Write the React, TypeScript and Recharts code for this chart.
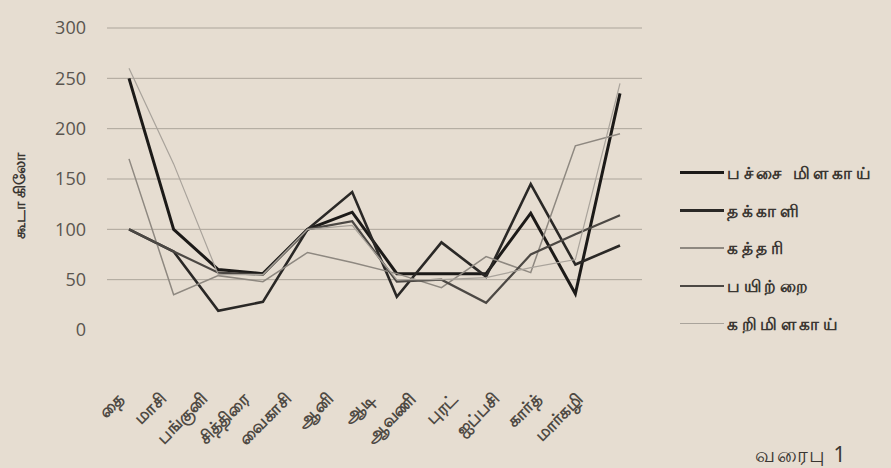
import React from 'react';
import { LineChart, Line, XAxis, YAxis, CartesianGrid } from 'recharts';

const months = ['தை', 'மாசி', 'பங்குனி', 'சித்திரை', 'வைகாசி', 'ஆனி', 'ஆடி', 'ஆவணி', 'புரட்', 'ஐப்பசி', 'கார்த்', 'மார்கழி'];

const pachaiMilagai = [250, 100, 60, 56, 100, 117, 56, 56, 56, 116, 36, 235];
const thakkali = [100, 78, 19, 28, 100, 137, 33, 87, 53, 145, 65, 84];
const kathari = [170, 35, 54, 48, 77, 67, 56, 42, 73, 57, 183, 195];
const payitrai = [100, 78, 57, 55, 100, 108, 48, 50, 27, 75, 95, 114];
const karimilagai = [260, 165, 55, 55, 100, 104, 50, 50, 52, 62, 70, 245];

const yTicks = [0, 50, 100, 150, 200, 250, 300];
const gridValues = [50, 100, 150, 200, 250, 300];

const series = [
    { key: 'pachai', name: 'பச்சை மிளகாய்', values: pachaiMilagai, color: '#1c1a18', width: 3 },
    { key: 'thakkali', name: 'தக்காளி', values: thakkali, color: '#2a2826', width: 2.6 },
    { key: 'kathari', name: 'கத்தரி', values: kathari, color: '#8e8880', width: 1.5 },
    { key: 'payitrai', name: 'பயிற்றை', values: payitrai, color: '#4c4844', width: 2.2 },
    { key: 'kari', name: 'கறிமிளகாய்', values: karimilagai, color: '#a9a39b', width: 1.2 },
];

const data = months.map((m, i) => {
    const row: Record<string, string | number> = { month: m };
    series.forEach((s) => {
        row[s.key] = s.values[i];
    });
    return row;
});

const BG = '#e6ddd1';
const TEXT = '#4e4943';
const FONT = '"Noto Sans", "Open Sans", sans-serif';

// the scanned labels drift left a little more for every month
const MonthTick = (props: any) => {
    const { x, y, payload, index } = props;
    const dx = -4 - 2.9 * index;
    return (
        <g transform={`translate(${x + dx},${y + 62}) rotate(-45)`}>
            <text textAnchor='end' fill={TEXT} fontSize={17} fontFamily={FONT} fontWeight={600}>
                {payload.value}
            </text>
        </g>
    );
};

const AxisTitle = () => (
    <text
        x={19}
        y={196}
        transform='rotate(-90 19 196)'
        textAnchor='middle'
        dominantBaseline='central'
        fill='#3a3632'
        fontSize={16}
        fontWeight={700}
        fontFamily={FONT}
    >
        கூடா கிலோ
    </text>
);

export default function App() {
    return (
        <div style={{ position: 'absolute', left: 0, top: 0, width: 891, height: 468, background: BG, overflow: 'hidden' }}>
            <LineChart width={891} height={468} data={data} margin={{ top: 28, right: 249, bottom: 108, left: 0 }}>
                <CartesianGrid vertical={false} horizontalValues={gridValues} stroke='#aca59b' strokeWidth={1} />
                <XAxis
                    dataKey='month'
                    axisLine={false}
                    tickLine={false}
                    interval={0}
                    padding={{ left: 22, right: 22 }}
                    tick={<MonthTick />}
                />
                <YAxis
                    width={107}
                    domain={[0, 300]}
                    ticks={yTicks}
                    axisLine={false}
                    tickLine={false}
                    tickMargin={15}
                    tick={{ fill: '#5a554f', fontSize: 18, fontFamily: '"Open Sans", sans-serif' }}
                    label={{ content: <AxisTitle /> }}
                />
                {series.map((s) => (
                    <Line
                        key={s.key}
                        type='linear'
                        dataKey={s.key}
                        name={s.name}
                        stroke={s.color}
                        strokeWidth={s.width}
                        dot={false}
                        isAnimationActive={false}
                    />
                ))}
            </LineChart>
            <div style={{ position: 'absolute', left: 680, top: 154, fontFamily: FONT }}>
                {series.map((s) => (
                    <div key={s.key} style={{ display: 'flex', alignItems: 'center', height: 37.7 }}>
                        <div style={{ width: 44, height: s.width, background: s.color }} />
                        <span style={{ marginLeft: 3, fontSize: 17, letterSpacing: 3.6, fontWeight: 700, color: '#3a3632' }}>
                            {s.name}
                        </span>
                    </div>
                ))}
            </div>
            <div style={{ position: 'absolute', left: 755, top: 440, fontSize: 21, letterSpacing: 1.5, fontFamily: FONT, color: '#3a3632' }}>
                வரைபு 1
            </div>
        </div>
    );
}
